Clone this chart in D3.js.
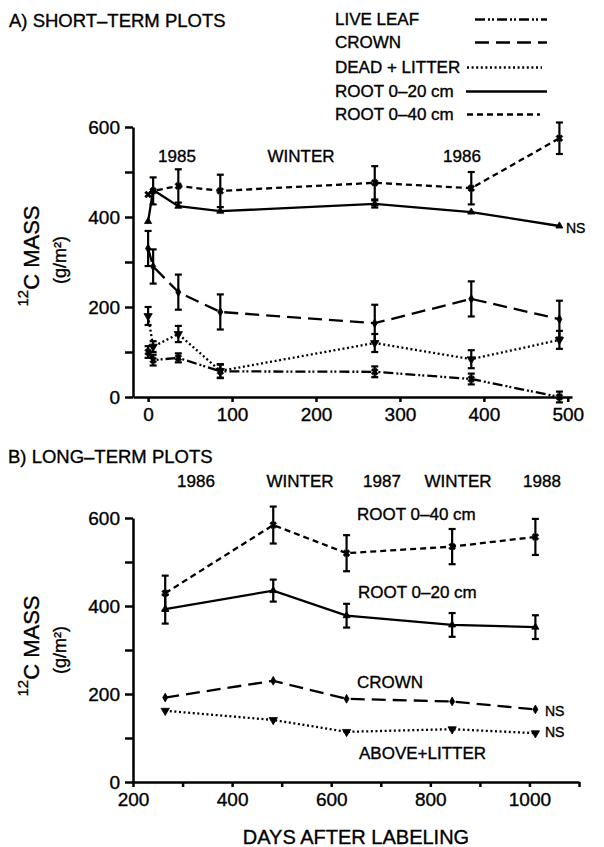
<!DOCTYPE html>
<html>
<head>
<meta charset="utf-8">
<script src="https://cdnjs.cloudflare.com/ajax/libs/d3/7.8.5/d3.min.js"></script>
<style>
  body { margin: 0; background: #fff; }
  svg { display: block; font-family: "Liberation Sans", Arial, Helvetica, sans-serif; }
  svg text { fill: #000; stroke: #000; stroke-width: 0.35; }
  .axis path, .axis line { stroke: #000; stroke-width: 2.5; }
  .axis text { font-size: 19px; font-family: "Liberation Sans", Arial, sans-serif; }
  .series { fill: none; stroke: #000; stroke-width: 2.3; }
  .err { stroke: #000; stroke-width: 2.2; }
  .lbl { font-size: 17px; }
</style>
</head>
<body>
<div id="chart"></div>
<script>
// ---- data ----
// A) short-term plots
var shortDays      = [0, 6, 36, 86, 270, 385, 490];
var shortLiveLeaf  = [100, 82, 87, 57, 56, 40, 0];
var shortLiveErr   = [13, 12, 10, 15, 12, 12, 12];
var shortCrown     = [330, 290, 233, 189, 164, 218, 173];
var shortCrownErr  = [39, 38, 39, 39, 41, 39, 41];
var shortDead      = [180, 112, 140, 58, 120, 84, 127];
var shortDeadErr   = [20, 12, 18, 15, 20, 20, 20];
var shortRoot20    = [390, 460, 424, 413, 429, 411, 380];
var shortRoot20Err = [0, 0, 0, 0, 8, 0, 0];
var shortRoot40    = [450, 458, 469, 458, 476, 464, 575];
var shortRoot40Err = [0, 30, 37, 36, 37, 36, 35];

// B) long-term plots
var longDays      = [265, 483, 631, 844, 1012];
var longRoot40    = [429, 584, 520, 535, 557];
var longRoot40Err = [40, 42, 41, 40, 41];
var longRoot20    = [393, 435, 378, 357, 352];
var longRoot20Err = [33, 25, 27, 27, 27];
var longCrown     = [192, 230, 189, 183, 165];
var longAbove     = [162, 141, 114, 120, 111];

var legendNames = ['LIVE LEAF', 'CROWN', 'DEAD + LITTER', 'ROOT 0\u201320 cm', 'ROOT 0\u201340 cm'];
var shortYears  = ['1985', 'WINTER', '1986'];
var longYears   = ['1986', 'WINTER', '1987', 'WINTER', '1988'];

// line styles
var dash = {
  live:   '10,3,2,2,2,3',
  crown:  '14,7',
  dead:   '2,2.6',
  root20: null,
  root40: '6,4'
};

var width = 604, height = 847;

var svg = d3.select('#chart').append('svg')
  .attr('width', width)
  .attr('height', height);

// scales
var xA = d3.scaleLinear().domain([-18, 505]).range([133, 572]);
var yA = d3.scaleLinear().domain([0, 600]).range([397, 127]);
var xB = d3.scaleLinear().domain([200, 1100]).range([133, 579]);
var yB = d3.scaleLinear().domain([0, 600]).range([782, 518]);

function drawAxes(x, y, xTicks, xFmt) {
  svg.append('g').attr('class', 'axis')
    .attr('transform', 'translate(0,' + y.range()[0] + ')')
    .call(d3.axisBottom(x).tickValues(xTicks).tickFormat(xFmt)
      .tickSize(5).tickPadding(6).tickSizeOuter(0));
  svg.append('g').attr('class', 'axis')
    .attr('transform', 'translate(' + x.range()[0] + ',0)')
    .call(d3.axisLeft(y).tickValues(d3.range(0, 601, 100))
      .tickFormat(function(d){ return d % 200 === 0 ? d : ''; })
      .tickSize(8).tickPadding(5).tickSizeOuter(0));
}

drawAxes(xA, yA, d3.range(0, 501, 100), function(d){ return d; });
drawAxes(xB, yB, d3.range(200, 1101, 100), function(d){
  return (d % 200 === 0 && d <= 1000) ? d : '';
});

var symbols = {
  live:   { type: d3.symbolCross, size: 30, rot: 45 },
  crown:  { type: d3.symbolDiamond, size: 22, rot: 0 },
  dead:   { type: d3.symbolTriangle, size: 30, rot: 180 },
  root20: { type: d3.symbolTriangle, size: 22, rot: 0 },
  root40: { type: d3.symbolCross, size: 30, rot: 45 }
};

function drawSeries(x, y, days, vals, errs, key) {
  var pts = days.map(function(d, i){ return { d: d, v: vals[i], e: errs ? errs[i] : 0 }; });
  var line = d3.line().x(function(p){ return x(p.d); }).y(function(p){ return y(p.v); });

  svg.append('path').datum(pts)
    .attr('class', 'series')
    .attr('d', line)
    .attr('stroke-dasharray', dash[key]);

  var eb = svg.append('g');
  pts.filter(function(p){ return p.e > 0; }).forEach(function(p){
    var cx = x(p.d), y0 = y(p.v - p.e), y1 = y(p.v + p.e);
    eb.append('line').attr('class', 'err').attr('x1', cx).attr('x2', cx).attr('y1', y0).attr('y2', y1);
    eb.append('line').attr('class', 'err').attr('x1', cx - 3.5).attr('x2', cx + 3.5).attr('y1', y0).attr('y2', y0);
    eb.append('line').attr('class', 'err').attr('x1', cx - 3.5).attr('x2', cx + 3.5).attr('y1', y1).attr('y2', y1);
  });

  var s = symbols[key];
  svg.append('g').selectAll('path')
    .data(pts)
    .enter()
    .append('path')
    .attr('d', d3.symbol().type(s.type).size(s.size))
    .attr('transform', function(p){
      return 'translate(' + x(p.d) + ',' + y(p.v) + ') rotate(' + s.rot + ')';
    })
    .attr('fill', '#000')
    .attr('stroke', '#000')
    .attr('stroke-width', s.type === d3.symbolCross ? 0.5 : 0.8);
}

// panel A
drawSeries(xA, yA, shortDays, shortLiveLeaf, shortLiveErr, 'live');
drawSeries(xA, yA, shortDays, shortDead, shortDeadErr, 'dead');
drawSeries(xA, yA, shortDays, shortCrown, shortCrownErr, 'crown');
drawSeries(xA, yA, shortDays, shortRoot20, shortRoot20Err, 'root20');
drawSeries(xA, yA, shortDays, shortRoot40, shortRoot40Err, 'root40');

// panel B
drawSeries(xB, yB, longDays, longAbove, null, 'dead');
drawSeries(xB, yB, longDays, longCrown, null, 'crown');
drawSeries(xB, yB, longDays, longRoot20, longRoot20Err, 'root20');
drawSeries(xB, yB, longDays, longRoot40, longRoot40Err, 'root40');

// titles
svg.append('text').attr('x', 9).attr('y', 27).attr('font-size', 18.5).text('A) SHORT\u2013TERM PLOTS');
svg.append('text').attr('x', 8).attr('y', 463).attr('font-size', 18.5).text('B) LONG\u2013TERM PLOTS');

// legend
var legKeys = ['live', 'crown', 'dead', 'root20', 'root40'];
var legBase = [25, 48, 73, 97, 120];
var legStart = [475, 475, 467, 466, 467];
var legEnd = [547, 547, 542, 547, 540];
legendNames.forEach(function(n, i){
  svg.append('text').attr('class', 'lbl').attr('x', 335).attr('y', legBase[i]).text(n);
  svg.append('line')
    .attr('x1', legStart[i]).attr('x2', legEnd[i])
    .attr('y1', legBase[i] - 5.5).attr('y2', legBase[i] - 5.5)
    .attr('stroke', '#000').attr('stroke-width', 2.3)
    .attr('stroke-dasharray', dash[legKeys[i]]);
});

// season labels
var shortYearX = [177, 301, 462];
shortYears.forEach(function(t, i){
  svg.append('text').attr('class', 'lbl').attr('x', shortYearX[i]).attr('y', 162)
    .attr('text-anchor', 'middle').text(t);
});
var longYearX = [196, 300, 382, 458, 542];
longYears.forEach(function(t, i){
  svg.append('text').attr('class', 'lbl').attr('x', longYearX[i]).attr('y', 487)
    .attr('text-anchor', 'middle').text(t);
});

// series labels in panel B
svg.append('text').attr('class', 'lbl').attr('x', 357).attr('y', 520).text('ROOT 0\u201340 cm');
svg.append('text').attr('class', 'lbl').attr('x', 358).attr('y', 598).text('ROOT 0\u201320 cm');
svg.append('text').attr('class', 'lbl').attr('x', 357).attr('y', 688).text('CROWN');
svg.append('text').attr('class', 'lbl').attr('x', 359).attr('y', 759).text('ABOVE+LITTER');

// NS marks
svg.append('text').attr('x', 566).attr('y', 233).attr('font-size', 14).text('NS');
svg.append('text').attr('x', 545).attr('y', 716).attr('font-size', 14).text('NS');
svg.append('text').attr('x', 545).attr('y', 737).attr('font-size', 14).text('NS');

// y titles
function yTitle(cy) {
  var t = svg.append('text')
    .attr('transform', 'translate(39,' + cy + ') rotate(-90)')
    .attr('text-anchor', 'middle');
  t.append('tspan').attr('font-size', 15).attr('dy', -11).text('12');
  t.append('tspan').attr('font-size', 22).attr('dy', 11).text('C MASS');
  svg.append('text')
    .attr('transform', 'translate(66,' + (cy + 4) + ') rotate(-90)')
    .attr('text-anchor', 'middle')
    .attr('font-size', 18)
    .text('(g/m\u00b2)');
}
yTitle(256);
yTitle(646);

// x title
svg.append('text').attr('x', 356).attr('y', 844).attr('text-anchor', 'middle')
  .attr('font-size', 20).text('DAYS AFTER LABELING');
</script>
</body>
</html>
